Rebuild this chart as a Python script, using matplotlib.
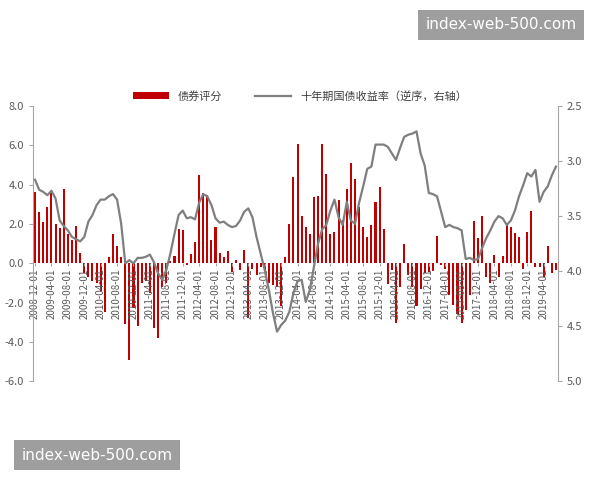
import numpy as np
import pandas as pd
import matplotlib
matplotlib.use('Agg')
import matplotlib.pyplot as plt

plt.rcParams['font.family'] = ['Noto Sans CJK SC', 'DejaVu Sans']

# 月度数据 2008-12 ~ 2019-07
meses = pd.date_range('2008-12-01', periods=128, freq='MS')

# 债券评分（左轴）
score = [3.65, 2.63, 2.12, 2.88, 3.56, 2.0, 1.8, 3.8, 1.5, 1.2, 1.9, 0.5,
         -0.5, -0.7, -0.9, -1.0, -1.4, -2.5, 0.3, 1.5, 0.9, 0.3, -3.1, -4.9,
         -2.3, -3.2, -1.0, -0.9, -1.5, -3.3, -3.8, -1.2, -1.0, 0.1, 0.35, 1.76,
         1.68, -0.1, 0.45, 1.1, 4.5, 3.6, 3.45, 1.17, 1.85, 0.5, 0.3, 0.6,
         -0.45, 0.15, -0.35, 0.65, -2.8, -0.3, -0.6, -0.2, -0.45, -1.0, -1.1, -1.2,
         -2.2, 0.3, 2.0, 4.4, 6.05, 2.4, 1.85, 1.5, 3.37, 3.4, 6.05, 4.55,
         1.5, 1.6, 3.2, 2.2, 3.8, 5.1, 4.3, 2.85, 1.85, 1.35, 1.95, 3.1,
         3.9, 1.75, -1.05, -0.35, -3.05, -1.2, 0.97, -0.6, -1.2, -2.2, -1.3, -0.5,
         -0.45, -0.4, 1.37, -0.1, -0.3, -1.6, -2.1, -2.6, -3.05, -2.4, -1.6, 2.15,
         1.3, 2.4, -0.7, -1.0, 0.4, -0.7, 0.35, 1.93, 1.85, 1.55, 1.35, -0.27,
         1.6, 2.66, -0.2, -0.2, -0.7, 0.9, -0.5, -0.35]

# 十年期国债收益率（右轴，逆序）
yld = [3.17, 3.26, 3.28, 3.31, 3.27, 3.34, 3.54, 3.59, 3.63, 3.69, 3.71, 3.73,
       3.69, 3.55, 3.49, 3.40, 3.35, 3.35, 3.32, 3.30, 3.35, 3.57, 3.93, 3.90,
       3.93, 3.88, 3.88, 3.87, 3.85, 3.92, 4.02, 4.08, 3.99, 3.84, 3.66, 3.49,
       3.45, 3.52, 3.51, 3.53, 3.38, 3.30, 3.32, 3.40, 3.52, 3.56, 3.55, 3.58,
       3.60, 3.59, 3.54, 3.46, 3.43, 3.51, 3.69, 3.84, 3.99, 4.17, 4.38, 4.55,
       4.49, 4.45, 4.37, 4.20, 4.09, 4.08, 4.28, 4.17, 3.96, 3.75, 3.62, 3.58,
       3.45, 3.35, 3.51, 3.58, 3.37, 3.54, 3.57, 3.38, 3.23, 3.07, 3.05, 2.85,
       2.85, 2.85, 2.87, 2.93, 2.99, 2.88, 2.78, 2.76, 2.75, 2.73, 2.93, 3.04,
       3.29, 3.30, 3.32, 3.46, 3.60, 3.58, 3.60, 3.61, 3.63, 3.89, 3.88, 3.90,
       3.89, 3.79, 3.70, 3.63, 3.55, 3.50, 3.52, 3.58, 3.54, 3.45, 3.32, 3.22,
       3.11, 3.14, 3.08, 3.37, 3.28, 3.23, 3.13, 3.05]

left_ticks = [8.0, 6.0, 4.0, 2.0, 0.0, -2.0, -4.0, -6.0]
right_ticks = [2.5, 3.0, 3.5, 4.0, 4.5, 5.0]

gris = '#A6A6A6'
texto = '#595959'

fig = plt.figure(figsize=(6, 4.8), dpi=100)
ax = fig.add_axes([0.055, 0.206, 0.875, 0.573])
x = np.arange(len(meses))

b = ax.bar(x, score, width=0.5, color='#C00000', label='债券评分')
ax.set_xlim(-0.5, len(meses) - 0.5)
ax.set_ylim(-6, 8)
ax.set_yticks(left_ticks)
ax.set_yticklabels(['%.1f' % v for v in left_ticks])

# eje x en el cero
ax.spines['bottom'].set_position(('data', 0))
ax.spines['bottom'].set_visible(False)
ax.spines['top'].set_visible(False)
ax.spines['right'].set_visible(False)
ax.spines['left'].set_color(gris)
pos = x[::4]
ax.set_xticks(pos)
ax.set_xticklabels([m.strftime('%Y-%m-%d') for m in meses[::4]], rotation=90,
                   fontsize=7, color=texto)
ax.tick_params(axis='x', length=2, color=gris, pad=2)
ax.tick_params(axis='y', length=3, color=gris, labelsize=8, labelcolor=texto)

ax2 = ax.twinx()
l, = ax2.plot(x, yld, color='#7F7F7F', linewidth=1.6,
              label='十年期国债收益率（逆序，右轴）')
ax2.set_ylim(5.0, 2.5)
ax2.set_yticks(right_ticks)
ax2.set_yticklabels(['%.1f' % v for v in right_ticks])
for s in ['top', 'bottom', 'left']:
    ax2.spines[s].set_visible(False)
ax2.spines['right'].set_color(gris)
ax2.tick_params(axis='y', length=3, color=gris, labelsize=8, labelcolor=texto)

fig.legend([b, l], ['债券评分', '十年期国债收益率（逆序，右轴）'], loc='center',
           bbox_to_anchor=(0.5, 0.80), ncol=2, frameon=False, fontsize=8,
           handlelength=3.2, columnspacing=3, labelcolor='#404040')

# marcas de agua
fig.text(0.835, 0.948, 'index-web-500.com', ha='center', va='center',
         fontsize=11, color='white', family='DejaVu Sans',
         bbox=dict(boxstyle='square,pad=0.5', fc='#9E9E9E', ec='none'))
fig.text(0.162, 0.052, 'index-web-500.com', ha='center', va='center',
         fontsize=11, color='white', family='DejaVu Sans',
         bbox=dict(boxstyle='square,pad=0.5', fc='#9E9E9E', ec='none'))

fig.savefig('out.png', dpi=100)
